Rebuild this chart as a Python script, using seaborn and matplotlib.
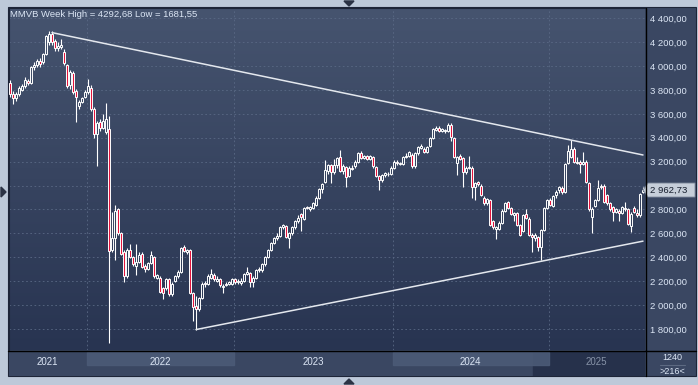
import numpy as np
import pandas as pd
import matplotlib
matplotlib.use("Agg")
import matplotlib.pyplot as plt
import seaborn as sns
from matplotlib.colors import LinearSegmentedColormap
from matplotlib.patches import Rectangle, Polygon

# weekly MMVB candles
opens = [3860, 3770, 3735, 3765, 3800, 3830, 3875, 3860, 3990, 4010,
         4040, 4030, 4100, 4200, 4265, 4210, 4155, 4160, 4120, 4010,
         3840, 3940, 3790, 3670, 3700, 3740, 3780, 3820, 3640, 3430,
         3530, 3480, 3450, 3470,
         2460, 2560, 2800, 2600, 2440, 2240, 2460, 2400, 2330, 2360,
         2430, 2330, 2300, 2350, 2400, 2230, 2230, 2140, 2140, 2220,
         2090, 2200, 2240, 2280, 2490, 2440, 2460, 2100, 1990,
         1970, 2060, 2185, 2180, 2230, 2250, 2205, 2215, 2150, 2170,
         2180, 2175, 2220, 2190, 2185, 2200, 2260, 2270, 2190, 2230,
         2290, 2290, 2340, 2400, 2460, 2520, 2560, 2580, 2650, 2660,
         2560, 2600, 2650, 2700, 2760, 2720, 2820, 2800, 2810, 2840,
         2900, 2970,
         3030, 3120, 3170, 3110, 3170, 3240, 3120, 3155, 3080, 3140,
         3160, 3200, 3275, 3230, 3250, 3225, 3240, 3155, 3080, 3045,
         3085, 3100, 3100, 3150, 3195, 3180, 3180, 3240, 3250, 3260,
         3160, 3270, 3315, 3310, 3280, 3330, 3400, 3465, 3485, 3460,
         3455, 3460, 3510,
         3400, 3190, 3250, 3230, 3110, 3150, 3150, 2990, 3030, 3000,
         2900, 2850, 2880, 2700, 2640, 2640, 2690, 2790, 2860, 2810,
         2750, 2770, 2670, 2620, 2760, 2720, 2590, 2560, 2570,
         2490, 2630, 2810, 2880, 2830, 2920, 2960, 2980, 2950, 3190,
         3240,
         3310, 3200, 3195, 3180, 3200, 3020, 2740, 2830, 2880, 2990,
         3000, 2920, 2850, 2820, 2780, 2790, 2770, 2810, 2800, 2660,
         2810, 2770, 2750, 2950]
highs = [3884, 3790, 3780, 3835, 3850, 3910, 3895, 4000, 4030, 4060,
         4070, 4110, 4260, 4292.68, 4290, 4230, 4200, 4230, 4140, 4020,
         3970, 3960, 3810, 3720, 3745, 3800, 3890, 3840, 3660, 3540,
         3560, 3600, 3690, 3580,
         2780, 2840, 2810, 2610, 2460, 2480, 2515, 2410, 2515, 2440,
         2440, 2340, 2360, 2450, 2410, 2260, 2240, 2150, 2230, 2230,
         2190, 2250, 2290, 2490, 2500, 2470, 2470, 2110, 2080,
         2070, 2190, 2200, 2260, 2300, 2270, 2240, 2225, 2175, 2195,
         2205, 2230, 2225, 2215, 2230, 2270, 2320, 2280, 2240, 2300,
         2320, 2350, 2410, 2470, 2530, 2570, 2600, 2660, 2680, 2670,
         2610, 2660, 2710, 2750, 2770, 2820, 2830, 2830, 2860, 2910,
         2980, 3020,
         3214, 3180, 3180, 3220, 3240, 3300, 3180, 3165, 3160, 3170,
         3210, 3285, 3290, 3260, 3260, 3260, 3250, 3165, 3090, 3095,
         3115, 3110, 3160, 3210, 3210, 3200, 3250, 3270, 3290, 3275,
         3280, 3330, 3345, 3320, 3330, 3410, 3480, 3495, 3495, 3480,
         3475, 3520, 3520,
         3410, 3250, 3265, 3240, 3160, 3250, 3160, 3030, 3040, 3010,
         2910, 2900, 2890, 2710, 2660, 2700, 2800, 2860, 2870, 2820,
         2780, 2780, 2680, 2760, 2800, 2740, 2600, 2600, 2580,
         2640, 2820, 2890, 2900, 2920, 2960, 3000, 2995, 3190, 3340,
         3380,
         3320, 3240, 3210, 3280, 3210, 3030, 2820, 2890, 3050, 3010,
         3010, 2930, 2860, 2830, 2810, 2800, 2830, 2860, 2810, 2780,
         2830, 2800, 2940, 2990]
lows = [3740, 3680, 3710, 3750, 3790, 3820, 3840, 3850, 3970, 3990,
        3990, 4020, 4090, 4180, 4180, 4130, 4130, 4140, 4010, 3820,
        3810, 3770, 3530, 3640, 3690, 3730, 3770, 3620, 3400, 3160,
        3460, 3470, 3430, 1681.55,
        2440, 2380, 2590, 2420, 2195, 2230, 2390, 2330, 2250, 2350,
        2310, 2280, 2290, 2340, 2230, 2220, 2100, 2050, 2130, 2080,
        2080, 2190, 2230, 2270, 2440, 2430, 2090, 1870, 1790,
        1950, 2050, 2150, 2170, 2220, 2200, 2190, 2150, 2100, 2160,
        2170, 2170, 2180, 2180, 2170, 2190, 2250, 2150, 2150, 2220,
        2280, 2280, 2330, 2390, 2450, 2510, 2545, 2570, 2640, 2560,
        2480, 2590, 2640, 2690, 2620, 2710, 2800, 2790, 2800, 2830,
        2890, 2940,
        3020, 3100, 3020, 3100, 3150, 3110, 3100, 2990, 3070, 3130,
        3150, 3190, 3220, 3220, 3210, 3215, 3150, 3070, 2963, 3030,
        3075, 3080, 3090, 3140, 3175, 3170, 3170, 3230, 3240, 3150,
        3150, 3260, 3305, 3270, 3270, 3320, 3390, 3455, 3450, 3445,
        3440, 3450, 3375,
        3230, 3090, 3210, 2990, 3100, 3140, 2900, 2880, 3000, 2910,
        2840, 2840, 2660, 2640, 2550, 2630, 2680, 2780, 2800, 2750,
        2700, 2660, 2580, 2610, 2720, 2580, 2440, 2540, 2450,
        2380, 2620, 2800, 2830, 2820, 2900, 2940, 2930, 2940, 3180,
        3230,
        3190, 3180, 3105, 3170, 3020, 2790, 2605, 2820, 2870, 2970,
        2850, 2840, 2790, 2700, 2770, 2700, 2760, 2790, 2670, 2610,
        2770, 2740, 2740, 2940]
closes = [3770, 3735, 3765, 3820, 3830, 3880, 3860, 3990, 4010, 4040,
          4020, 4100, 4250, 4270, 4200, 4150, 4170, 4180, 4025, 3830,
          3950, 3780, 3740, 3700, 3730, 3780, 3830, 3640, 3430, 3520,
          3480, 3540, 3560, 2450,
          2560, 2790, 2600, 2430, 2240, 2460, 2400, 2340, 2360, 2420,
          2320, 2300, 2350, 2420, 2240, 2250, 2110, 2100, 2220, 2090,
          2180, 2240, 2280, 2480, 2450, 2460, 2100, 1980, 1970,
          2060, 2180, 2175, 2240, 2260, 2215, 2215, 2165, 2160, 2180,
          2190, 2215, 2190, 2200, 2200, 2260, 2275, 2190, 2230, 2290,
          2300, 2340, 2400, 2460, 2520, 2560, 2580, 2650, 2670, 2570,
          2600, 2650, 2700, 2730, 2740, 2810, 2810, 2820, 2850, 2900,
          2970, 3010,
          3130, 3170, 3110, 3170, 3230, 3120, 3165, 3070, 3145, 3150,
          3200, 3275, 3230, 3250, 3225, 3250, 3160, 3080, 3045, 3085,
          3105, 3095, 3150, 3200, 3185, 3190, 3240, 3250, 3280, 3160,
          3270, 3320, 3330, 3280, 3320, 3400, 3470, 3480, 3460, 3470,
          3465, 3510, 3410,
          3240, 3240, 3220, 3110, 3150, 3155, 2990, 3020, 3010, 2920,
          2850, 2890, 2670, 2650, 2650, 2690, 2790, 2850, 2810, 2760,
          2770, 2670, 2590, 2750, 2730, 2590, 2570, 2590, 2490,
          2630, 2810, 2880, 2840, 2910, 2950, 2990, 2950, 3180, 3290,
          3310,
          3200, 3190, 3180, 3200, 3030, 2800, 2800, 2880, 2980, 3000,
          2860, 2850, 2800, 2780, 2800, 2770, 2820, 2800, 2680, 2760,
          2780, 2750, 2930, 2962.73]

# first weekly bar of each calendar year
year_labels = ['2021', '2022', '2023', '2024', '2025']
year_first_bar = [0, 26, 75, 128, 180]

# trend lines: (bar, price) anchors
upper_trend_bars = [14, 211]
upper_trend_prices = [4280, 3256]
lower_trend_bars = [62, 211]
lower_trend_prices = [1795, 2535]

price_ticks = list(range(1800, 4401, 200))


def fmt_price(v):
    return f"{v:,.2f}".replace(',', ' ').replace('.', ',')


sns.set_style("dark")
plt.rcParams['font.family'] = ['Liberation Sans', 'DejaVu Sans']

W, H = 698, 385
TXT = '#dce6f5'


def box(x0, y0, x1, y1):
    return [x0 / W, 1 - y1 / H, (x1 - x0) / W, (y1 - y0) / H]


fig = plt.figure(figsize=(W / 100, H / 100), dpi=100)
fig.patch.set_facecolor('#bdc9d9')

bg = fig.add_axes([0, 0, 1, 1], zorder=-1)
bg.set_xlim(0, W)
bg.set_ylim(H, 0)
bg.axis('off')
bg.add_patch(Rectangle((8, 7), 688, 369, facecolor='#3a4762',
                       edgecolor='#1d2538', lw=0.8))

ax = fig.add_axes(box(9, 8, 645, 350))
ax_b = fig.add_axes(box(9, 351, 645, 376), sharex=ax)

# gradient background of the price pane
cmap = LinearSegmentedColormap.from_list('pane', ['#283451', '#46546f'])
grad = np.linspace(0, 1, 256).reshape(-1, 1)
ax.imshow(grad, extent=[0, 1, 0, 1], transform=ax.transAxes, origin='lower',
          aspect='auto', cmap=cmap, zorder=0)

df = pd.DataFrame({'open': opens, 'high': highs, 'low': lows, 'close': closes})
df['bar'] = np.arange(len(df))
df['top'] = df[['open', 'close']].max(axis=1)
df['bot'] = df[['open', 'close']].min(axis=1)
up = df['close'] >= df['open']

xmin = -1 / 3
xmax = xmin + 212
ax.set_xlim(xmin, xmax)
ax.set_ylim(1624, 4486)

ax.vlines(df['bar'], df['top'], df['high'], color='white', lw=0.8, zorder=3)
ax.vlines(df['bar'], df['low'], df['bot'], color='white', lw=0.8, zorder=3)
d_up = df[up]
d_dn = df[~up]
ax.bar(d_up['bar'], (d_up['top'] - d_up['bot']).clip(lower=2), bottom=d_up['bot'],
       width=0.64, facecolor='none', edgecolor='white', lw=0.7, zorder=4)
ax.bar(d_dn['bar'], (d_dn['top'] - d_dn['bot']).clip(lower=2), bottom=d_dn['bot'],
       width=0.64, facecolor='#e3143c', edgecolor='white', lw=0.7, zorder=4)

sns.lineplot(x=upper_trend_bars, y=upper_trend_prices, ax=ax, color='#e4e8ee',
             lw=1.1, zorder=5)
sns.lineplot(x=lower_trend_bars, y=lower_trend_prices, ax=ax, color='#e4e8ee',
             lw=1.1, zorder=5)

# grid
grid_kw = dict(color='#5a6985', lw=0.6, ls=(0, (2, 3)), zorder=1)
for p in price_ticks:
    ax.axhline(p, **grid_kw)
for b in year_first_bar[1:]:
    ax.axvline(b - 0.5, **grid_kw)
ax.grid(False)
ax_b.grid(False)

ax.yaxis.tick_right()
ax.set_yticks(price_ticks)
ax.set_yticklabels([fmt_price(p) for p in price_ticks])
ax.tick_params(axis='y', length=0, pad=3.5, labelsize=6.8, labelcolor=TXT)
ax.tick_params(axis='x', bottom=False, labelbottom=False)
ax_b.tick_params(axis='both', bottom=False, left=False, labelbottom=False,
                 labelleft=False)
ax_b.set_yticks([])
for s in ['top', 'left']:
    ax.spines[s].set_color('#1d2538')
    ax.spines[s].set_linewidth(0.8)
for s in ['right', 'bottom']:
    ax.spines[s].set_visible(False)
for s in ax_b.spines.values():
    s.set_visible(False)

title = (f"MMVB Week High = {max(highs):.2f} Low = {min(lows):.2f}").replace('.', ',')
ax.text(0.0016, 0.994, title, transform=ax.transAxes, ha='left', va='top',
        fontsize=6.8, color=TXT, zorder=6)

# time strip
ax_b.set_facecolor('#3a4762')
ax_b.set_ylim(0, 1)
ax_b.axvspan(174.3, xmax, ymin=0, ymax=0.96, color='#26314b', zorder=1)
bounds = [xmin] + [b - 0.5 for b in year_first_bar[1:]] + [xmax]
for k, lab in enumerate(year_labels):
    if k in (1, 3):
        ax_b.axvspan(bounds[k], bounds[k + 1], ymin=0.44, ymax=0.96,
                     color='#4b5a76', alpha=0.92, zorder=2)
    ax_b.text((bounds[k] + bounds[k + 1]) / 2, 0.56, lab, ha='center', va='center',
              fontsize=7, color='#8793a8' if lab == '2025' else TXT, zorder=3)

# overlay: separators, corner box, price marker, scroll arrows
ov = fig.add_axes([0, 0, 1, 1], zorder=5)
ov.set_xlim(0, W)
ov.set_ylim(H, 0)
ov.axis('off')
ov.patch.set_alpha(0)
ov.plot([645.5, 645.5], [8, 376], color='black', lw=1)
ov.plot([8, 696], [350.5, 350.5], color='black', lw=1)
ov.text(672, 357, '1240', ha='center', va='center', fontsize=6.5, color=TXT)
ov.plot([660, 685], [364.5, 364.5], color='#5d6a82', lw=0.8)
ov.text(672, 371, '>216<', ha='center', va='center', fontsize=6.5, color=TXT)

yc = H - ax.transData.transform((0, closes[-1]))[1]
ov.add_patch(Polygon([(643, yc), (648, yc - 7), (695, yc - 7), (695, yc + 7),
                      (648, yc + 7)], closed=True, facecolor='#c6ced9',
                     edgecolor='#7c879a', lw=0.6))
ov.text(650, yc, fmt_price(closes[-1]), ha='left', va='center', fontsize=6.8,
        color='#141c2b')

arrow_c = '#2b3345'
ov.add_patch(Polygon([(344, 1), (354, 1), (349, 6)], closed=True, color=arrow_c))
ov.add_patch(Polygon([(344, 384), (354, 384), (349, 379)], closed=True, color=arrow_c))
ov.add_patch(Polygon([(1, 187), (1, 197), (6, 192)], closed=True, color=arrow_c))

fig.savefig('out.png', dpi=100, facecolor=fig.get_facecolor())
